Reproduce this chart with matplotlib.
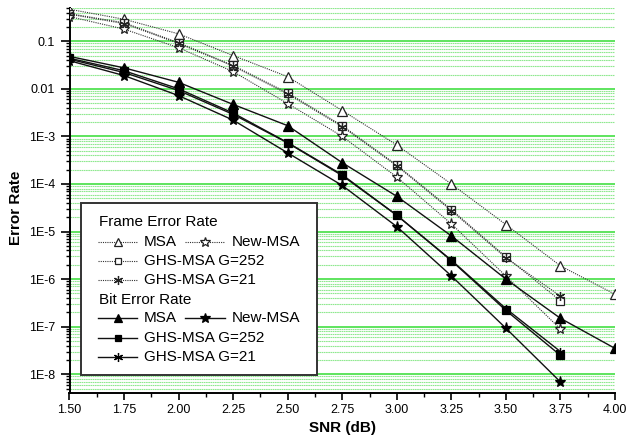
import matplotlib
matplotlib.use("Agg")
import matplotlib.pyplot as plt
from matplotlib.patches import Rectangle
from matplotlib.lines import Line2D
from matplotlib.ticker import FixedLocator, MultipleLocator, NullFormatter
import numpy as np

plt.rcParams['font.family'] = ['Liberation Sans', 'DejaVu Sans']

snr = [1.50, 1.75, 2.00, 2.25, 2.50, 2.75, 3.00, 3.25, 3.50, 3.75, 4.00]

fer_msa = [0.47, 0.29, 0.143, 0.05, 0.018, 0.0035, 6.6e-4, 1.0e-4, 1.4e-5, 1.9e-6, 4.8e-7]
fer_ghs252 = [0.38, 0.245, 0.093, 0.031, 0.0082, 0.00168, 2.5e-4, 2.9e-5, 2.95e-6, 3.5e-7]
fer_ghs21 = [0.37, 0.235, 0.09, 0.030, 0.0078, 0.0016, 2.4e-4, 2.75e-5, 2.8e-6, 4.4e-7]
fer_new = [0.33, 0.18, 0.073, 0.023, 0.0049, 0.0010, 1.4e-4, 1.45e-5, 1.16e-6, 8.9e-8]

ber_msa = [0.048, 0.0276, 0.0137, 0.0047, 0.00168, 2.8e-4, 5.5e-5, 8.1e-6, 1.0e-6, 1.5e-7, 3.5e-8]
ber_ghs252 = [0.044, 0.024, 0.010, 0.0031, 7.4e-4, 1.56e-4, 2.2e-5, 2.45e-6, 2.2e-7, 2.5e-8]
ber_ghs21 = [0.042, 0.022, 0.0092, 0.0029, 7.3e-4, 1.5e-4, 2.2e-5, 2.5e-6, 2.4e-7, 3.0e-8]
ber_new = [0.039, 0.019, 0.0072, 0.0022, 4.5e-4, 9.3e-5, 1.27e-5, 1.17e-6, 9.3e-8, 6.9e-9]

ytick_vals = [1e-1, 1e-2, 1e-3, 1e-4, 1e-5, 1e-6, 1e-7, 1e-8]
ytick_labels = ["0.1", "0.01", "1E-3", "1E-4", "1E-5", "1E-6", "1E-7", "1E-8"]
xtick_vals = [1.50, 1.75, 2.00, 2.25, 2.50, 2.75, 3.00, 3.25, 3.50, 3.75, 4.00]
xtick_labels = ["1.50", "1.75", "2.00", "2.25", "2.50", "2.75", "3.00", "3.25", "3.50", "3.75", "4.00"]

W, H = 628, 440
fig = plt.figure(figsize=(W / 100, H / 100), dpi=100)
L, R, T, B = 69.5, 615.0, 8.0, 392.7
ax = fig.add_axes([L / W, 1 - B / H, (R - L) / W, (B - T) / H])
ax.set_yscale('log')
ax.set_xlim(1.5, 4.0)
ax.set_ylim(4.1e-9, 0.5)

# grid
ax.yaxis.set_major_locator(FixedLocator(ytick_vals))
ax.yaxis.set_minor_locator(FixedLocator([m * 10.0 ** e for e in range(-9, 0) for m in range(2, 10)]))
ax.yaxis.set_minor_formatter(NullFormatter())
ax.set_yticklabels(ytick_labels)
ax.grid(True, which='major', axis='y', color='#33dd33', lw=1.1, zorder=0)
ax.grid(True, which='minor', axis='y', color='#8fe88f', lw=0.8, ls=(0, (1.5, 0.5)), zorder=0)
ax.set_xticks(xtick_vals)
ax.set_xticklabels(xtick_labels)
ax.xaxis.set_minor_locator(MultipleLocator(0.125))

for s in ['top', 'right']:
    ax.spines[s].set_visible(False)
for s in ['left', 'bottom']:
    ax.spines[s].set_linewidth(1.4)
ax.tick_params(axis='both', which='major', direction='out', labelsize=9, width=1.2)
ax.tick_params(axis='y', which='major', length=6.5, pad=4)
ax.tick_params(axis='x', which='major', length=5, pad=3)
ax.tick_params(axis='both', which='minor', direction='out', length=3, width=1.0)

fer_kw = dict(color='#333333', lw=0.8, ls=(0, (1, 1)), ms=6.5, mfc='white', mec='#222222', mew=0.9, zorder=3)
ber_kw = dict(color='#111111', lw=1.0, ls='-', ms=6.5, mfc='black', mec='black', mew=0.9, zorder=4)
AST = (6, 2, 0)

ax.plot(snr[:len(fer_msa)], fer_msa, marker='^', **fer_kw)
ax.plot(snr[:len(fer_ghs252)], fer_ghs252, marker='s', **{**fer_kw, 'ms': 5.5})
ax.plot(snr[:len(fer_ghs21)], fer_ghs21, marker=AST, **fer_kw)
ax.plot(snr[:len(fer_new)], fer_new, marker='*', **{**fer_kw, 'ms': 8})

ax.plot(snr[:len(ber_msa)], ber_msa, marker='^', **ber_kw)
ax.plot(snr[:len(ber_ghs252)], ber_ghs252, marker='s', **{**ber_kw, 'ms': 5.5})
ax.plot(snr[:len(ber_ghs21)], ber_ghs21, marker=AST, **ber_kw)
ax.plot(snr[:len(ber_new)], ber_new, marker='*', **{**ber_kw, 'ms': 8})

ax.set_xlabel("SNR (dB)", fontsize=11, fontweight='bold')
ax.set_ylabel("Error Rate", fontsize=11, fontweight='bold')
ax.xaxis.label.set_verticalalignment('center')
ax.yaxis.label.set_verticalalignment('center')
ax.xaxis.set_label_coords(0.5, (B - 428) / (B - T))
ax.yaxis.set_label_coords((16 - L) / (R - L), (B - 208) / (B - T))

# legend (drawn in pixel coordinates on an overlay)
lax = fig.add_axes([0, 0, 1, 1])
lax.set_xlim(0, W)
lax.set_ylim(H, 0)
lax.axis('off')
lax.add_patch(Rectangle((81, 203), 236, 172, facecolor='white', edgecolor='#333333', lw=1.4))

fs = 11
lax.text(99, 222.5, "Frame Error Rate", fontsize=fs, va='center', ha='left')
lax.text(99, 299.5, "Bit Error Rate", fontsize=fs, va='center', ha='left')

def entry(x0, x1, y, marker, kw, label, ms=None):
    k = dict(kw)
    if ms is not None:
        k['ms'] = ms
    k['zorder'] = 5
    lax.add_line(Line2D([x0, x1], [y, y], **{kk: v for kk, v in k.items() if kk not in ('ms', 'mfc', 'mec', 'mew')}))
    lax.add_line(Line2D([(x0 + x1) / 2], [y], marker=marker, ls='none',
                        ms=k['ms'], mfc=k['mfc'], mec=k['mec'], mew=k['mew'], zorder=6))
    lax.text(x1 + 6.5, y, label, fontsize=fs, va='center', ha='left')

rows_fer = [241.7, 260.7, 280.0]
rows_ber = [318.3, 337.7, 356.7]
entry(98, 137, rows_fer[0], '^', fer_kw, "MSA", ms=5.5)
entry(185, 225, rows_fer[0], '*', fer_kw, "New-MSA", ms=7)
entry(98, 137, rows_fer[1], 's', fer_kw, "GHS-MSA G=252", ms=4.5)
entry(98, 137, rows_fer[2], AST, fer_kw, "GHS-MSA G=21", ms=6.5)
entry(98, 137, rows_ber[0], '^', ber_kw, "MSA", ms=5.5)
entry(185, 225, rows_ber[0], '*', ber_kw, "New-MSA", ms=7)
entry(98, 137, rows_ber[1], 's', ber_kw, "GHS-MSA G=252", ms=4.5)
entry(98, 137, rows_ber[2], AST, ber_kw, "GHS-MSA G=21", ms=6.5)

fig.savefig("out.png", dpi=100)
